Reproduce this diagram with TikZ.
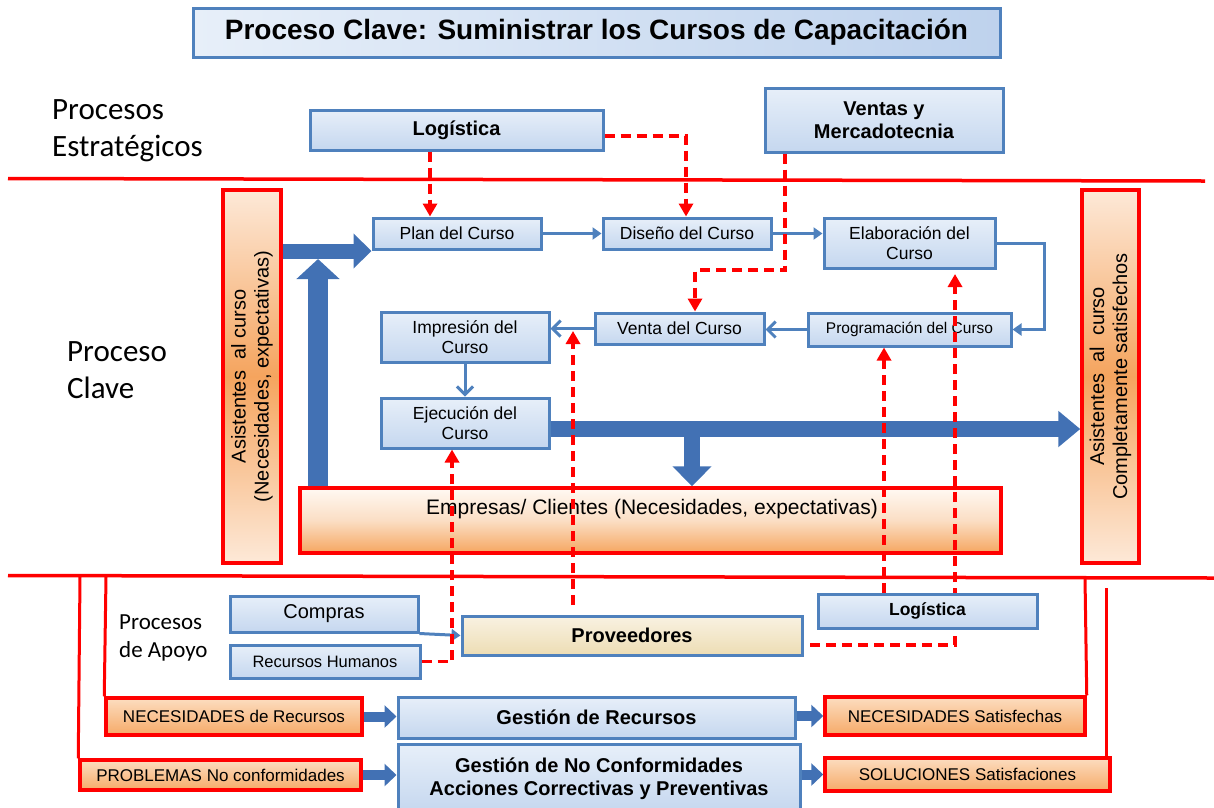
\documentclass[tikz,border=0pt]{standalone}
\usepackage{fontspec}
\setmainfont{Liberation Sans}
\newfontfamily\calfont{Carlito}
\usetikzlibrary{arrows.meta,calc}

\definecolor{boxblue}{RGB}{79,129,189}
\definecolor{lightblueA}{RGB}{231,239,249}
\definecolor{lightblueB}{RGB}{197,215,239}
\definecolor{arrowblue}{RGB}{66,113,180}
\definecolor{orangeA}{RGB}{253,233,216}
\definecolor{orangeB}{RGB}{245,164,94}
\definecolor{beigeA}{RGB}{249,242,226}
\definecolor{beigeB}{RGB}{237,221,180}

\newcommand{\fsz}[1]{\fontsize{#1}{1.15\dimexpr #1pt\relax}\selectfont}

\begin{document}
\begin{tikzpicture}[x=1pt,y=-1pt,
  bluebox/.style={draw=boxblue, line width=3pt, top color=lightblueA, bottom color=lightblueB, inner sep=0pt, align=center},
  beigebox/.style={draw=boxblue, line width=3pt, top color=beigeA, bottom color=beigeB, inner sep=0pt, align=center},
  redbox/.style={draw=red, line width=3.5pt, inner sep=0pt, align=center},
  orangeside/.style={redbox, top color=orangeA, bottom color=orangeA, middle color=orangeB},
  orangesmall/.style={redbox, top color={rgb,255:red,252;green,221;blue,192}, bottom color={rgb,255:red,246;green,170;blue,104}},
  orangewide/.style={redbox, top color={rgb,255:red,255;green,249;blue,243}, bottom color={rgb,255:red,245;green,166;blue,96}, middle color={rgb,255:red,251;green,222;blue,196}},
  boxtext/.style={font=\fsz{17.5}},
  boldtext/.style={font=\bfseries\fsz{20}},
  thinarrow/.style={draw=boxblue, line width=3pt, -{Triangle[length=9pt,width=12pt]}},
  barbarrow/.style={draw=boxblue, line width=3pt, -{Straight Barb[length=8pt,width=16pt,line width=3pt]}},
  reddash/.style={draw=red, line width=3.5pt, dash pattern=on 10pt off 6pt, -{Triangle[length=13pt,width=14pt]}},
  redline/.style={draw=red, line width=3.5pt},
  redthin/.style={draw=red, line width=3pt},
]
\useasboundingbox (0,0) rectangle (1214,807);

% ---------- separators ----------
\coordinate (rl1) at (8,178.5);
\coordinate (rl2) at (1205,181);
\coordinate (rl3) at (8,575.5);
\coordinate (rl4) at (1214,578);
\draw[redline] (rl1) -- (rl2);
\draw[redline] (rl3) -- (rl4);

% ---------- title and section labels ----------
\node[draw=boxblue, line width=3pt, left color=lightblueA, right color={rgb,255:red,190;green,210;blue,237},
      inner sep=0pt, minimum width=807, minimum height=49, font=\bfseries\fsz{28}]
  (title) at (596.5,32.5) {Proceso Clave: Suministrar los Cursos de Capacitación};

\node[anchor=west, align=left, inner sep=0pt, font=\calfont\fontsize{31}{37}\selectfont]
  (lblest) at (52,131) {Procesos\\Estratégicos};
\node[anchor=west, align=left, inner sep=0pt, font=\calfont\fontsize{31}{37}\selectfont]
  (lblclave) at (67,370) {Proceso\\Clave};
\node[anchor=west, align=left, inner sep=0pt, font=\calfont\fontsize{23}{28}\selectfont]
  (lblapoyo) at (119,638) {Procesos\\de Apoyo};

% ---------- strategic processes ----------
\node[bluebox, boldtext, minimum width=293, minimum height=40] (log1) at (456.5,130) {Logística};
\node[bluebox, boldtext, minimum width=238, minimum height=64] (ventas) at (884,120) {Ventas y\\Mercadotecnia};

% ---------- customers / attendees ----------
\node[orangeside, rotate=90, minimum width=373, minimum height=58, font=\fsz{20}] (leftA) at (252,376.5)
  {Asistentes\ \ al curso\\(Necesidades, expectativas)};
\node[orangeside, rotate=90, minimum width=373, minimum height=57, font=\fsz{20}] (rightA) at (1110.5,376.5)
  {Asistentes\ \ al\ \ curso\\Completamente satisfechos};
\node[orangewide, minimum width=701, minimum height=65] (emp) at (650.5,520.5) {};
\node[inner sep=0pt, font=\fsz{21}] (emptxt) at (652,509) {Empresas/ Clientes (Necesidades, expectativas)};

% ---------- key process steps ----------
\node[bluebox, boxtext, minimum width=168, minimum height=31] (plan) at (457,233.5) {Plan del Curso};
\node[bluebox, boxtext, minimum width=168, minimum height=31] (diseno) at (687,233.5) {Diseño del Curso};
\node[bluebox, boxtext, minimum width=171, minimum height=50] (elab) at (909.5,243) {Elaboración del\\Curso};
\node[bluebox, font=\fsz{15.5}, minimum width=203, minimum height=33] (prog) at (909.5,329.5) {Programación del Curso};
\node[bluebox, boxtext, minimum width=169, minimum height=31] (venta) at (679.5,328.5) {Venta del Curso};
\node[bluebox, boxtext, minimum width=168, minimum height=50] (impr) at (465,337) {Impresión del\\Curso};
\node[bluebox, boxtext, minimum width=168, minimum height=50] (ejec) at (465,423) {Ejecución del\\Curso};

% ---------- support processes ----------
\node[bluebox, font=\fsz{20}, minimum width=188, minimum height=36] (compras) at (324,614) {Compras};
\node[bluebox, font=\fsz{16.5}, minimum width=190, minimum height=33] (rrhh) at (325,661.5) {Recursos Humanos};
\node[beigebox, boldtext, minimum width=340, minimum height=39] (prov) at (632,635.5) {Proveedores};

\node[orangesmall, font=\fsz{17}, minimum width=256, minimum height=37] (necR) at (234,716.5) {NECESIDADES de Recursos};
\node[orangesmall, font=\fsz{17}, minimum width=281, minimum height=30] (prob) at (220.5,775) {PROBLEMAS No conformidades};
\node[bluebox, boldtext, minimum width=397, minimum height=41] (gestR) at (596.5,717.5) {Gestión de Recursos};
\node[bluebox, boldtext, minimum width=402, minimum height=68, anchor=north] (gestNC) at (599,743)
  {Gestión de No Conformidades\\Acciones Correctivas y Preventivas};
\node[orangesmall, font=\fsz{17}, minimum width=260, minimum height=38] (necS) at (955,716) {NECESIDADES Satisfechas};
\node[orangesmall, font=\fsz{17}, minimum width=285, minimum height=33] (sol) at (967.5,774.5) {SOLUCIONES Satisfaciones};

% ---------- bracket lines of the support area ----------
\coordinate (bl80) at (80,577);
\coordinate (bl106) at (106,577);
\coordinate (br1085) at (1085,578);
\coordinate (br1106) at (1106,588);
\draw[redthin] (bl80) -- (prob.north west);
\draw[redthin] (bl106) -- (necR.north west);
\draw[redthin] (br1085) -- (necS.north east);
\draw[redthin] (br1106) -- (br1106 |- sol.north);

% ---------- thin flow arrows ----------
\draw[thinarrow] (plan.east) -- (diseno.west);
\draw[thinarrow] (diseno.east) -- (diseno.east -| elab.west);
\draw[thinarrow] (elab.east) -- ++(48,0) |- (prog.east);
\draw[barbarrow] (prog.west) -- (prog.west -| venta.east);
\draw[barbarrow] (venta.west) -- (venta.west -| impr.east);
\draw[barbarrow] (impr.south) -- (ejec.north);
\draw[thinarrow] (compras.south east) -- (prov.west);

% ---------- thick flow arrows ----------
\coordinate (ya) at (0,251);
\coordinate (vtip) at (318,259);
\coordinate (ejy) at (0,429);
\coordinate (dtop) at (692,429);
\draw[arrowblue, line width=15pt, -{Triangle[length=18pt,width=34pt]}] (leftA.south |- ya) -- (plan.west |- ya);
\draw[arrowblue, line width=20pt, -{Triangle[length=20pt,width=42pt]}] (emp.north -| vtip) -- (vtip);
\draw[arrowblue, line width=16pt, -{Triangle[length=22pt,width=35pt]}] (ejec.east |- ejy) -- (rightA.north |- ejy);
\draw[arrowblue, line width=16pt, -{Triangle[length=20pt,width=38pt]}] (dtop) -- (dtop |- emp.north);

\draw[arrowblue, line width=10pt, -{Triangle[length=12pt,width=22pt]}] (necR.east) -- (gestR.west |- necR.east);
\draw[arrowblue, line width=10pt, -{Triangle[length=12pt,width=22pt]}] (prob.east) -- (gestNC.west |- prob.east);
\draw[arrowblue, line width=10pt, -{Triangle[length=12pt,width=22pt]}] (gestR.east |- necS.west) -- (necS.west);
\draw[arrowblue, line width=10pt, -{Triangle[length=12pt,width=22pt]}] (gestNC.east |- sol.west) -- (sol.west);

% ---------- dashed support links ----------
\coordinate (c430) at (430,0);
\coordinate (d2a) at (603,136);
\coordinate (c686) at (686,0);
\coordinate (d3a) at (785,270);
\coordinate (c695) at (695,0);
\coordinate (c452) at (452,0);
\coordinate (d5s) at (573,605);
\coordinate (d5e) at (573,331);
\coordinate (c884) at (884,0);
\coordinate (d7s) at (810,645);
\coordinate (d7a) at (955,645);
\coordinate (d7b) at (955,274);
\draw[reddash] (log1.south -| c430) -- (plan.north -| c430);
\draw[reddash] (log1.east |- d2a) -| (diseno.north -| c686);
\draw[reddash] (ventas.south -| d3a) -- (d3a) -| (venta.north -| c695);
\draw[reddash] (rrhh.east) -| (ejec.south -| c452);
\draw[reddash] (d5s) -- (d5e);
\draw[reddash] (d7s) -- (d7a) -- (d7b);

% second logistics box sits over the supplier link
\node[bluebox, font=\bfseries\fsz{17.5}, minimum width=219, minimum height=34] (log2) at (927.5,611) {Logística};
\draw[reddash] (log2.north -| c884) -- (prog.south -| c884);

\end{tikzpicture}
\end{document}
